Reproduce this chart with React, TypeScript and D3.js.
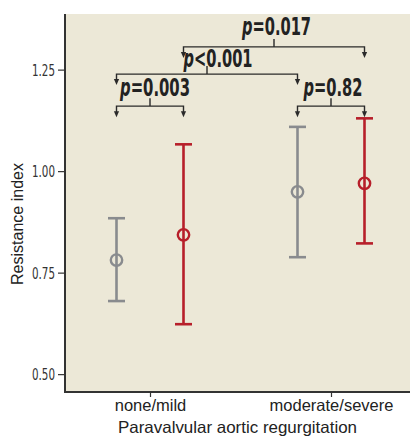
import { useEffect, useRef } from 'react';
import * as d3 from 'd3';

const groups = ['none/mild', 'moderate/severe'];
const seriesKeys = ['gray', 'red'];
const seriesColors = ['#898b8e', '#b71f2a'];
// [lower, mean, upper] per group for each series
const grayValues = [
  [0.68, 0.781, 0.884],
  [0.788, 0.949, 1.109],
];
const redValues = [
  [0.623, 0.843, 1.066],
  [0.822, 0.97, 1.13],
];
const yTicks = [0.5, 0.75, 1.0, 1.25];

// comparisons: [group, series] from -> to, bracket level (value), label
const comparisons = [
  { from: [0, 0], to: [0, 1], level: 1.16, label: '=0.003', width: 70, dx: 5, dy: -10 },
  { from: [1, 0], to: [1, 1], level: 1.16, label: '=0.82', width: 59, dx: 2, dy: -10 },
  { from: [0, 0], to: [1, 0], level: 1.239, label: '<0.001', width: 69, dx: 11, dy: -7 },
  { from: [0, 1], to: [1, 1], level: 1.306, label: '=0.017', width: 69, dx: 2.5, dy: -12 },
];

export default function App() {
  const svgRef = useRef<SVGSVGElement>(null);

  useEffect(() => {
    const svg = d3.select(svgRef.current);
    svg.selectAll('*').remove();

    const W = 411;
    const H = 437;
    const margin = { top: 14, right: 1, bottom: 45, left: 65 };
    const plotW = W - margin.left - margin.right;
    const plotH = H - margin.top - margin.bottom;

    svg.attr('width', W).attr('height', H);

    const x = d3.scalePoint().domain(groups).range([85, 266]);
    const offset = d3.scalePoint().domain(seriesKeys).range([-33.5, 33.5]);
    const y = d3.scaleLinear().domain([0.456, 1.387]).range([plotH, 0]);

    const g = svg.append('g').attr('transform', `translate(${margin.left},${margin.top})`);

    g.append('rect')
      .attr('width', plotW)
      .attr('height', plotH)
      .attr('fill', '#ece8d7');

    const condensed = "'Liberation Sans Narrow', 'DejaVu Sans Condensed', 'Liberation Sans', Arial, sans-serif";
    const regular = "'Liberation Sans', Arial, sans-serif";

    // y axis
    const yAxis = g.append('g').call(d3.axisLeft(y).tickValues(yTicks).tickFormat(d3.format('.2f')).tickSize(7));
    yAxis.select('.domain').remove();
    yAxis.selectAll('line').attr('stroke', '#333').attr('stroke-width', 1.2);
    yAxis.selectAll('text')
      .attr('fill', '#333')
      .attr('font-family', condensed)
      .attr('font-size', 15)
      .attr('textLength', 23)
      .attr('lengthAdjust', 'spacingAndGlyphs')
      .attr('x', -10)
      .attr('dy', '0.36em');

    // x axis
    const xAxis = g.append('g')
      .attr('transform', `translate(0,${plotH})`)
      .call(d3.axisBottom(x).tickSize(5));
    xAxis.select('.domain').remove();
    xAxis.selectAll('line').attr('stroke', '#333').attr('stroke-width', 1.2);
    xAxis.selectAll('text')
      .attr('fill', '#222')
      .attr('font-family', regular)
      .attr('font-size', 16.5)
      .attr('y', 19)
      .attr('dy', 0);

    // axis lines
    g.append('line').attr('x1', 0).attr('x2', 0).attr('y1', 0).attr('y2', plotH + 1)
      .attr('stroke', '#333').attr('stroke-width', 2);
    g.append('line').attr('x1', -1).attr('x2', plotW).attr('y1', plotH).attr('y2', plotH)
      .attr('stroke', '#333').attr('stroke-width', 2);

    // axis titles
    svg.append('text')
      .attr('x', margin.left + plotW / 2)
      .attr('y', 433)
      .attr('text-anchor', 'middle')
      .attr('font-family', regular)
      .attr('font-size', 16.5)
      .attr('fill', '#222')
      .attr('textLength', 239)
      .attr('lengthAdjust', 'spacingAndGlyphs')
      .text('Paravalvular aortic regurgitation');

    svg.append('text')
      .attr('transform', 'translate(23,224) rotate(-90)')
      .attr('text-anchor', 'middle')
      .attr('font-family', regular)
      .attr('font-size', 16.5)
      .attr('fill', '#222')
      .attr('textLength', 122)
      .attr('lengthAdjust', 'spacingAndGlyphs')
      .text('Resistance index');

    // error bars
    const series = [grayValues, redValues];
    series.forEach((vals, si) => {
      const color = seriesColors[si];
      vals.forEach((v, gi) => {
        const cx = (x(groups[gi]) as number) + (offset(seriesKeys[si]) as number);
        const [lo, mean, hi] = v;
        g.append('line').attr('x1', cx).attr('x2', cx).attr('y1', y(lo)).attr('y2', y(hi))
          .attr('stroke', color).attr('stroke-width', 2.6);
        [lo, hi].forEach((val) => {
          g.append('line').attr('x1', cx - 8.5).attr('x2', cx + 8.5).attr('y1', y(val)).attr('y2', y(val))
            .attr('stroke', color).attr('stroke-width', 2.6);
        });
        g.append('circle').attr('cx', cx).attr('cy', y(mean)).attr('r', 5.7)
          .attr('fill', 'none').attr('stroke', color).attr('stroke-width', 2.4);
      });
    });

    // comparison brackets
    const posX = (p: number[]) => (x(groups[p[0]]) as number) + (offset(seriesKeys[p[1]]) as number);
    const ann = g.append('g');
    comparisons.forEach((c) => {
      const x1 = posX(c.from);
      const x2 = posX(c.to);
      const by = y(c.level);
      const mid = (x1 + x2) / 2;
      ann.append('path')
        .attr('d', `M${x1},${by + 7}V${by}H${x2}V${by + 7}M${mid},${by}V${by - 8}`)
        .attr('fill', 'none').attr('stroke', '#2a2a2a').attr('stroke-width', 1.4);
      [x1, x2].forEach((ax) => {
        ann.append('path')
          .attr('d', `M${ax - 2.6},${by + 5}L${ax + 2.6},${by + 5}L${ax},${by + 11}Z`)
          .attr('fill', '#2a2a2a');
      });
      const t = ann.append('text')
        .attr('x', mid + c.dx)
        .attr('y', by + c.dy)
        .attr('text-anchor', 'middle')
        .attr('font-family', condensed)
        .attr('font-weight', 'bold')
        .attr('font-size', 24)
        .attr('fill', '#222')
        .attr('textLength', c.width)
        .attr('lengthAdjust', 'spacingAndGlyphs');
      t.append('tspan').attr('font-style', 'italic').text('p');
      t.append('tspan').text(c.label);
    });
  }, []);

  return (
    <div style={{ position: 'absolute', left: 0, top: 0 }}>
      <svg ref={svgRef} style={{ display: 'block' }}></svg>
    </div>
  );
}
